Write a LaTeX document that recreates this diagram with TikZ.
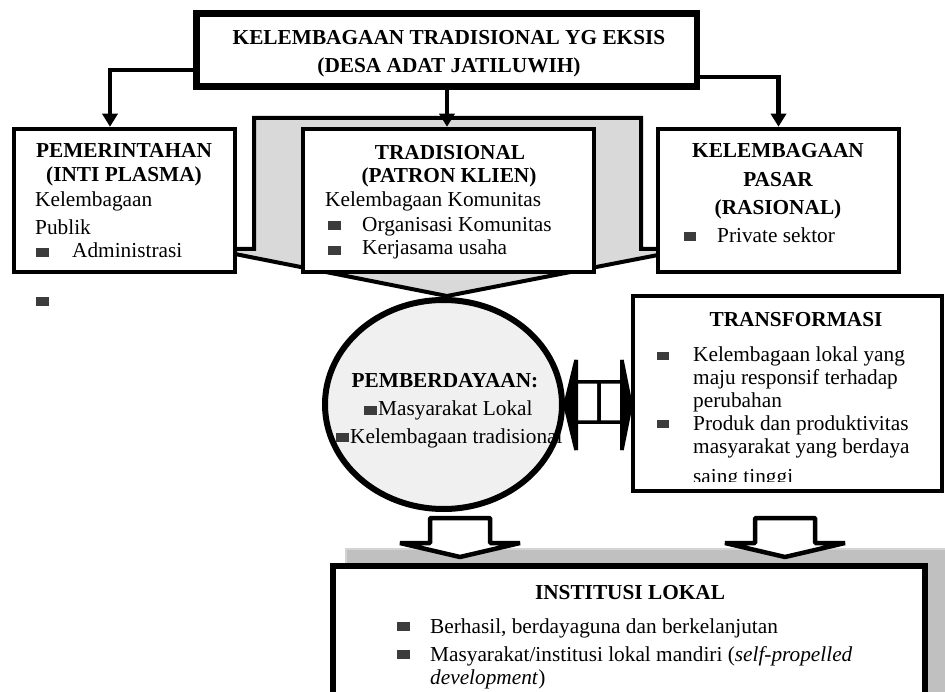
\documentclass[tikz,border=0pt]{standalone}
\usepackage{fontspec}
\setmainfont{Liberation Serif}
\usetikzlibrary{arrows.meta,calc,shapes.geometric}
\definecolor{calloutgray}{RGB}{217,217,217}
\definecolor{circfill}{RGB}{240,240,240}
\definecolor{bandgray}{RGB}{192,192,192}
\definecolor{bandedge}{RGB}{212,212,212}
\definecolor{bulletgray}{RGB}{60,60,60}
\begin{document}
\begin{tikzpicture}[x=1pt,y=-1pt,
  t/.style={font=\fontsize{21.3}{24}\selectfont, inner sep=0pt, anchor=base},
  tb/.style={t, font=\fontsize{21.3}{24}\selectfont\bfseries},
  tl/.style={t, anchor=base west},
  box/.style={draw, fill=white, line width=4.5pt, rectangle, inner sep=0pt},
  conn/.style={line width=4.5pt, -{Triangle[width=15pt,length=13pt]}},
  bul/.style={fill=bulletgray},
  blockarrow/.style={draw, fill=white, line join=bevel}
]
\clip (0,0) rectangle (945,692);
\fill[white] (0,0) rectangle (945,692);

% gray callout behind the three boxes
\draw[fill=calloutgray, line width=4pt, line join=miter]
  (254,118) -- (641,118) -- (641,249) -- (658,249) -- (658,255) -- (447,296)
  -- (235,254) -- (235,249) -- (254,249) -- cycle;

% top box
\node[box, line width=6.5pt, minimum width=500.5pt, minimum height=73pt] (top) at (446.75,50) {};
\node[tb] (top1) at (449,45) {KELEMBAGAAN TRADISIONAL YG EKSIS};
\node[tb] (top2) at (449,73) {(DESA ADAT JATILUWIH)};

% three boxes
\node[box, minimum width=221pt, minimum height=143pt] (pem) at (124.5,200.5) {};
\node[box, minimum width=291pt, minimum height=143pt] (trad) at (448.5,200.5) {};
\node[box, minimum width=241pt, minimum height=143pt] (pasar) at (778.5,200.5) {};

% connectors from top box
\draw[conn] ($(top.west)+(0,20)$) -| ($(pem.north)+(-14.5,0)$);
\draw[conn] (top.south -| 447,0) -- (trad.north -| 447,0);
\draw[conn] ($(top.east)+(0,27)$) -| (pasar.north);

% left box text
\node[tb] (p1) at (124,158) {PEMERINTAHAN};
\node[tb] (p2) at (124,182) {(INTI PLASMA)};
\node[tl] (p3) at (35,207) {Kelembagaan};
\node[tl] (p4) at (35,235) {Publik};
\fill[bul] (36,248) rectangle (49,257);
\node[tl] (p5) at (72,258) {Administrasi};
\fill[bul] (36,297) rectangle (49,306);

% middle box text
\node[tb] (m1) at (450,160) {TRADISIONAL};
\node[tb] (m2) at (449,183) {(PATRON KLIEN)};
\node[tl] (m3) at (325,207) {Kelembagaan Komunitas};
\fill[bul] (328,221) rectangle (341,230);
\node[tl] (m4) at (362,232) {Organisasi Komunitas};
\fill[bul] (328,246) rectangle (341,255);
\node[tl] (m5) at (362,255) {Kerjasama usaha};

% right box text
\node[tb] (r1) at (778,158) {KELEMBAGAAN};
\node[tb] (r2) at (778,187) {PASAR};
\node[tb] (r3) at (778,215) {(RASIONAL)};
\fill[bul] (684,232) rectangle (696,241);
\node[tl] (r4) at (717,243) {Private sektor};

% circle
\node[ellipse, fill=circfill, minimum width=237pt, minimum height=209pt, inner sep=0pt] (circ) at (443.5,404.5) {};
\node[tb] (c1) at (445,388) {PEMBERDAYAAN:};
\fill[bul] (364,406) rectangle (377,415);
\node[tl] (c2) at (378,415) {Masyarakat Lokal};
\fill[bul] (336,433) rectangle (349,442);
\node[tl] (c3) at (350,443) {Kelembagaan tradisional};
\draw[line width=6pt] (circ.center) ellipse [x radius=118.5pt, y radius=104.5pt];

% transformasi box
\node[box, minimum width=309pt, minimum height=195pt] (trans) at (787.5,393.5) {};
\node[tb] (x1) at (796,327) {TRANSFORMASI};
\fill[bul] (657,352) rectangle (669,360);
\node[tl] (x2) at (693,362) {Kelembagaan lokal yang};
\node[tl] (x3) at (693,384.5) {maju responsif terhadap};
\node[tl] (x4) at (693,407) {perubahan};
\fill[bul] (657,420) rectangle (669,428);
\node[tl] (x5) at (693,430) {Produk dan produktivitas};
\node[tl] (x6) at (693,453) {masyarakat yang berdaya};
\begin{scope}
  \clip (633,296) rectangle (942,481);
  \node[tl] (x7) at (693,483) {saing tinggi};
\end{scope}

% double block arrow
\draw[blockarrow, line width=3.5pt] (599,382) -- (576,382) -- (576,360) -- (565,405) -- (576,450) -- (576,422) -- (599,422) -- cycle;
\draw[blockarrow, line width=3.5pt] (599,382) -- (622,382) -- (622,360) -- (631,405) -- (622,450) -- (622,422) -- (599,422) -- cycle;
\fill[black] (576,360) -- (565,405) -- (576,450) -- (578,450) -- (578,360) -- cycle;
\fill[black] (622,360) -- (631,405) -- (622,450) -- (620,450) -- (620,360) -- cycle;

% shadow band
\fill[bandgray] (345,548) rectangle (945,692);
\draw[bandedge, line width=2pt] (346,692) -- (346,549) -- (945,549);

% down block arrows
\draw[blockarrow, line width=4.5pt] (430,518) -- (490,518) -- (490,543) -- (520,543) -- (460,557) -- (400,543) -- (430,543) -- cycle;
\draw[blockarrow, line width=4.5pt] (755,518) -- (815,518) -- (815,543) -- (845,543) -- (785,557) -- (725,543) -- (755,543) -- cycle;

% institusi box
\node[box, line width=6pt, minimum width=592pt, minimum height=136pt] (inst) at (629,634) {};
\node[tb] (i1) at (630,599) {INSTITUSI LOKAL};
\fill[bul] (397,622) rectangle (410,631);
\node[tl] (i2) at (430,633) {Berhasil, berdayaguna dan berkelanjutan};
\fill[bul] (397,650) rectangle (410,659);
\node[tl] (i3) at (430,661) {Masyarakat/institusi lokal mandiri (\textit{self-propelled}};
\node[tl] (i4) at (430,684) {\textit{development})};
\end{tikzpicture}
\end{document}
